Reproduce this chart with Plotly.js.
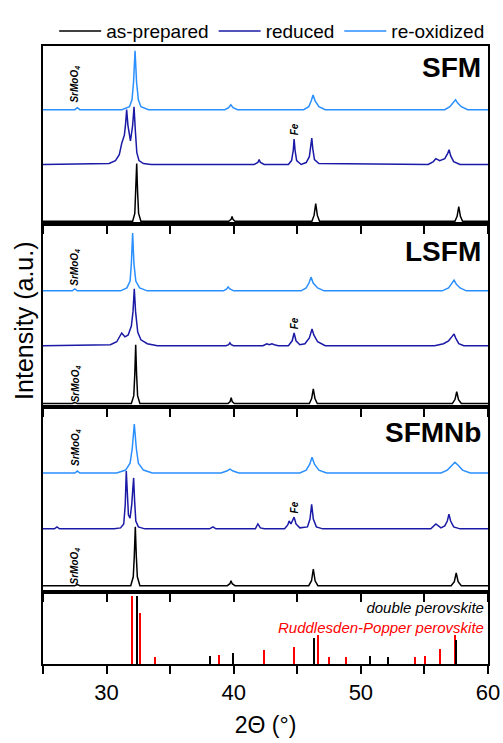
<!DOCTYPE html>
<html>
<head>
<meta charset="utf-8">
<script src="https://cdn.plot.ly/plotly-3.0.1.min.js"></script>
<style>html,body{margin:0;padding:0;background:#fff;}#chart{width:503px;height:743px;}</style>
</head>
<body>
<div id="chart"></div>
<script>
// ---------- Data (2Theta in degrees, intensity in a.u. above each pattern's baseline) ----------
const seriesNames = ["as-prepared", "reduced", "re-oxidized"];
const panelNames = ["SFM", "LSFM", "SFMNb"];

// SFM
const sfmAsPrepX = [25, 32.05, 32.22, 32.30, 32.37, 32.44, 32.52, 32.70, 39.6, 39.8, 39.87, 39.94, 40.1, 46.15, 46.32, 46.45, 46.58, 46.75, 57.4, 57.57, 57.7, 57.83, 58.0, 60];
const sfmAsPrepY = [0, 0, 8, 30, 59, 30, 8, 0, 0, 2, 5, 2, 0, 0, 6, 18, 6, 0, 0, 5, 15, 5, 0, 0];
const sfmRedX = [25, 30.2, 30.7, 31.0, 31.2, 31.4, 31.5, 31.58, 31.68, 31.88, 32.05, 32.16, 32.26, 32.38, 32.55, 32.9, 33.5, 41.6, 41.9, 42.0, 42.1, 42.4, 44.3, 44.55, 44.68, 44.75, 44.83, 44.95, 45.3, 45.7, 45.95, 46.07, 46.14, 46.22, 46.35, 46.7, 55.3, 55.7, 55.9, 56.2, 56.6, 56.82, 56.94, 57.06, 57.3, 57.8, 60];
const sfmRedY = [0, 1, 4, 10, 22, 30, 42, 56, 40, 24, 40, 59, 35, 12, 4, 1, 0, 0, 2, 5, 2, 0, 0, 4, 14, 26, 14, 4, 0, 2, 8, 20, 27, 16, 5, 1, 0, 3, 6, 4, 6, 11, 15, 9, 3, 0, 0];
const sfmReoxX = [25, 27.5, 27.7, 27.9, 31.2, 31.8, 32.0, 32.12, 32.24, 32.36, 32.5, 32.7, 33.3, 39.3, 39.6, 39.77, 39.95, 40.3, 45.5, 45.9, 46.1, 46.24, 46.4, 46.7, 47.2, 56.6, 57.0, 57.3, 57.45, 57.6, 57.9, 58.4, 60];
const sfmReoxY = [0, 0, 2, 0, 0, 3, 10, 28, 60, 28, 10, 3, 0, 0, 2, 5, 2, 0, 0, 3, 9, 15, 9, 3, 0, 0, 3, 7, 10, 7, 3, 0, 0];

// LSFM
const lsfmAsPrepX = [25, 27.3, 27.5, 27.7, 31.95, 32.14, 32.22, 32.29, 32.36, 32.44, 32.62, 39.55, 39.72, 39.8, 39.88, 40.05, 45.95, 46.13, 46.26, 46.39, 46.57, 57.2, 57.4, 57.54, 57.68, 57.9, 60];
const lsfmAsPrepY = [0, 0, 1, 0, 0, 8, 30, 60, 30, 8, 0, 0, 2, 6, 2, 0, 0, 5, 15, 5, 0, 0, 4, 12, 4, 0, 0];
const lsfmRedX = [25, 30.3, 30.8, 31.05, 31.19, 31.32, 31.45, 31.7, 31.95, 32.08, 32.18, 32.28, 32.45, 32.7, 33.2, 34.0, 39.4, 39.6, 39.7, 39.8, 40.0, 42.3, 42.6, 42.8, 43.0, 43.2, 43.5, 44.3, 44.6, 44.75, 44.9, 45.2, 45.6, 45.95, 46.16, 46.3, 46.6, 47.2, 55.8, 56.5, 56.9, 57.15, 57.33, 57.45, 57.7, 58.1, 60];
const lsfmRedY = [0, 1, 4, 9, 13, 11, 9, 11, 20, 35, 58, 35, 14, 6, 2, 0, 0, 1, 3, 1, 0, 0, 2, 1, 2, 1, 0, 0, 5, 13, 5, 1, 2, 8, 17, 11, 4, 0, 0, 2, 5, 9, 12, 8, 2, 0, 0];
const lsfmReoxX = [25, 27.3, 27.5, 27.7, 31.1, 31.6, 31.85, 31.95, 32.05, 32.15, 32.3, 32.6, 33.2, 39.2, 39.45, 39.56, 39.7, 40.0, 45.3, 45.7, 45.92, 46.08, 46.25, 46.6, 47.1, 56.4, 56.9, 57.15, 57.33, 57.5, 57.8, 58.3, 60];
const lsfmReoxY = [0, 0, 2, 0, 0, 3, 10, 28, 59, 28, 10, 3, 0, 0, 2, 4, 2, 0, 0, 3, 8, 14, 8, 3, 0, 0, 3, 7, 11, 7, 3, 0, 0];

// SFMNb
const sfmnbAsPrepX = [25, 27.5, 27.7, 27.9, 31.9, 32.1, 32.18, 32.26, 32.34, 32.42, 32.62, 39.5, 39.7, 39.79, 39.88, 40.1, 45.9, 46.12, 46.26, 46.4, 46.62, 57.1, 57.35, 57.5, 57.65, 57.9, 60];
const sfmnbAsPrepY = [0, 0, 1, 0, 0, 9, 30, 60, 30, 9, 0, 0, 2, 5, 2, 0, 0, 5, 17, 5, 0, 0, 4, 13, 4, 0, 0];
const sfmnbRedX = [25, 25.9, 26.1, 26.3, 30.6, 31.1, 31.35, 31.47, 31.55, 31.63, 31.72, 31.85, 31.98, 32.06, 32.13, 32.2, 32.3, 32.5, 33.0, 38.1, 38.37, 38.6, 41.7, 41.9, 42.1, 42.4, 44.0, 44.25, 44.36, 44.5, 44.6, 44.75, 44.9, 45.2, 45.8, 46.0, 46.13, 46.26, 46.5, 47.0, 55.5, 55.9, 56.3, 56.6, 56.8, 56.93, 57.06, 57.3, 57.8, 60];
const sfmnbRedY = [0, 0, 2, 0, 0, 1, 5, 25, 59, 30, 14, 11, 25, 40, 52, 30, 8, 2, 0, 0, 2, 0, 0, 5, 1, 0, 0, 4, 8, 5, 8, 12, 5, 1, 2, 10, 25, 10, 2, 0, 0, 5, 1, 3, 8, 15, 8, 2, 0, 0];
const sfmnbReoxX = [25, 27.5, 27.7, 27.9, 30.8, 31.5, 31.85, 32.02, 32.18, 32.34, 32.5, 32.9, 33.6, 39.0, 39.45, 39.7, 39.95, 40.4, 45.2, 45.7, 45.98, 46.16, 46.35, 46.7, 47.3, 56.3, 56.8, 57.15, 57.4, 57.65, 58.0, 58.6, 60];
const sfmnbReoxY = [0, 0, 2, 0, 0, 3, 10, 25, 50, 25, 10, 3, 0, 0, 2, 4, 2, 0, 0, 3, 9, 16, 9, 3, 0, 0, 3, 8, 11, 8, 3, 0, 0];

// Reference reflections (relative intensity, %)
const dpPos = [32.42, 38.17, 39.93, 46.32, 50.73, 52.12, 57.50];
const dpInt = [100, 12, 16, 39, 11.6, 10, 36];
const rpPos = [31.97, 32.63, 33.81, 38.85, 42.38, 44.74, 46.60, 47.50, 48.80, 54.26, 55.05, 56.23, 57.42];
const rpInt = [100, 75, 10, 13, 20, 25, 43.5, 10, 10, 10, 11.6, 21.7, 43.5];
const refLabels = ["double perovskite", "Ruddlesden-Popper perovskite"];

// x axis: labelled ticks every 10, unlabelled ticks every 5
const xLabelStart = 30, xLabelStep = 10, xMinorStep = 5;

// ---------- Styling / placement ----------
const colors = ["#000000", "#1a1aa6", "#2a8fff"];
const FONT = "Liberation Sans, Arial, sans-serif";
// offsets per panel for as-prepared, reduced, re-oxidized
const panels = [
  {name: "SFM",   xa: "x4", ya: "y4", range: 182, off: [3, 61, 117],
   data: [[sfmAsPrepX, sfmAsPrepY], [sfmRedX, sfmRedY], [sfmReoxX, sfmReoxY]]},
  {name: "LSFM",  xa: "x3", ya: "y3", range: 187, off: [4, 63, 119],
   data: [[lsfmAsPrepX, lsfmAsPrepY], [lsfmRedX, lsfmRedY], [lsfmReoxX, lsfmReoxY]]},
  {name: "SFMNb", xa: "x2", ya: "y2", range: 189, off: [7, 65, 122],
   data: [[sfmnbAsPrepX, sfmnbAsPrepY], [sfmnbRedX, sfmnbRedY], [sfmnbReoxX, sfmnbReoxY]]}
];

const traces = [];
panels.forEach((p, pi) => {
  p.data.forEach((d, si) => {
    traces.push({
      type: "scatter", mode: "lines",
      x: d[0], y: d[1].map(v => v + p.off[si]),
      xaxis: p.xa, yaxis: p.ya,
      name: seriesNames[si],
      legendgroup: seriesNames[si],
      showlegend: pi === 0,
      legendrank: si + 1,
      line: {color: colors[si], width: 1.5},
      hoverinfo: "skip"
    });
  });
});
traces.push({type: "bar", x: rpPos, y: rpInt, width: 0.16, xaxis: "x", yaxis: "y",
  marker: {color: "#ff0000", line: {width: 0}}, showlegend: false, name: refLabels[1]});
traces.push({type: "bar", x: dpPos, y: dpInt, width: 0.16, xaxis: "x", yaxis: "y",
  marker: {color: "#000000", line: {width: 0}}, showlegend: false, name: refLabels[0]});

const xBase = {
  range: [25, 60], showline: true, mirror: true, linewidth: 2, linecolor: "#000",
  ticks: "outside", ticklen: 8, tickwidth: 2, tickcolor: "#000",
  tickmode: "linear", tick0: xLabelStart, dtick: xLabelStep,
  minor: {ticks: "outside", dtick: xMinorStep, tick0: xLabelStart, ticklen: 8, tickwidth: 2, tickcolor: "#000", showgrid: false},
  showgrid: false, zeroline: false, fixedrange: true
};
const yBase = {
  showline: true, mirror: true, linewidth: 2, linecolor: "#000",
  ticks: "", showticklabels: false, showgrid: false, zeroline: false, fixedrange: true
};
const dom = [0, 0.1157, 0.4152, 0.7116, 1];

const layout = {
  width: 503, height: 743,
  margin: {l: 43, r: 15, t: 33, b: 79},
  paper_bgcolor: "#fff", plot_bgcolor: "#fff",
  font: {family: FONT, color: "#000"},
  barmode: "overlay",
  showlegend: true,
  legend: {orientation: "h", x: 0.515, xanchor: "center", y: 1.024, yanchor: "middle",
    font: {size: 19, family: FONT}, itemwidth: 42, tracegroupgap: 0, bgcolor: "rgba(0,0,0,0)"},
  xaxis:  Object.assign({}, xBase, {anchor: "y", showticklabels: true, tickfont: {size: 22, family: FONT},
    title: {text: "2Θ (°)", font: {size: 23, family: FONT}, standoff: 12}}),
  xaxis2: Object.assign({}, xBase, {anchor: "y2", showticklabels: false}),
  xaxis3: Object.assign({}, xBase, {anchor: "y3", showticklabels: false}),
  xaxis4: Object.assign({}, xBase, {anchor: "y4", showticklabels: false}),
  yaxis:  Object.assign({}, yBase, {domain: [dom[0], dom[1]], range: [0, 105.8], anchor: "x"}),
  yaxis2: Object.assign({}, yBase, {domain: [dom[1], dom[2]], range: [0, panels[2].range], anchor: "x2"}),
  yaxis3: Object.assign({}, yBase, {domain: [dom[2], dom[3]], range: [0, panels[1].range], anchor: "x3"}),
  yaxis4: Object.assign({}, yBase, {domain: [dom[3], dom[4]], range: [0, panels[0].range], anchor: "x4"}),
  annotations: [],
  bargap: 0
};

const A = layout.annotations;
// Y title
A.push({text: "Intensity (a.u.)", xref: "paper", yref: "paper", x: -0.043, y: 0.555,
  xanchor: "center", yanchor: "middle", textangle: -90, showarrow: false, font: {size: 25, family: FONT}});
// panel names
const nameY = [160, 159, 163];
panels.forEach((p, i) => {
  A.push({text: "<b>" + p.name + "</b>", xref: "paper", yref: p.ya, x: 0.989, y: nameY[i],
    xanchor: "right", yanchor: "middle", showarrow: false, font: {size: 28, family: FONT}});
});
// SrMoO4 labels
const srPos = [["y4", 143], ["y3", 143], ["y3", 24], ["y2", 148], ["y2", 27]];
srPos.forEach(s => {
  A.push({text: "<b><i>SrMoO<sub>4</sub></i></b>", xref: "x", yref: s[0], x: 27.55, y: s[1],
    xanchor: "center", yanchor: "middle", textangle: -90, showarrow: false, font: {size: 10, family: FONT}});
});
// Fe labels
const fePos = [["y4", 97], ["y3", 86], ["y2", 87]];
fePos.forEach(s => {
  A.push({text: "<b><i>Fe</i></b>", xref: "x", yref: s[0], x: 44.75, y: s[1],
    xanchor: "center", yanchor: "middle", textangle: -90, showarrow: false, font: {size: 10, family: FONT}});
});
// Reference labels (one two-line text, right aligned)
A.push({text: "<i>" + refLabels[0] + "</i><br><i><span style=\"color:#ff0000\">" + refLabels[1] + "</span></i>",
  xref: "paper", yref: "y", x: 0.993, y: 69.5, align: "right",
  xanchor: "right", yanchor: "middle", showarrow: false, borderpad: 0,
  font: {size: 15, family: FONT, color: "#000"}});

Plotly.newPlot("chart", traces, layout, {displayModeBar: false, staticPlot: true});
</script>
</body>
</html>
